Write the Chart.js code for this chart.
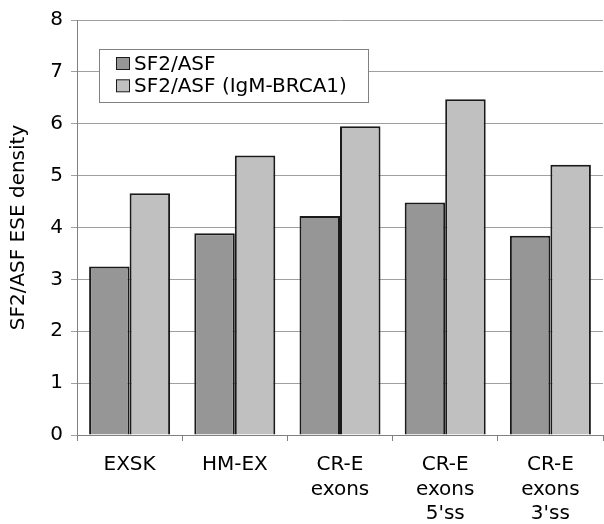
<!DOCTYPE html>
<html>
<head>
<meta charset="utf-8">
<script src="https://cdn.jsdelivr.net/npm/chart.js@4"></script>
<style>
  html, body { margin: 0; padding: 0; background: #fff; }
  #wrap { width: 604px; height: 524px; }
</style>
</head>
<body>
<div id="wrap"><canvas id="myChart" width="604" height="524"></canvas></div>
<script>
// categories (multi-line labels)
var categories = [
  ['EXSK'],
  ['HM-EX'],
  ['CR-E', 'exons'],
  ['CR-E', 'exons', "5'ss"],
  ['CR-E', 'exons', "3'ss"]
];
var seriesNames = ['SF2/ASF', 'SF2/ASF (IgM-BRCA1)'];
var sf2asf = [3.25, 3.89, 4.22, 4.48, 3.84];
var sf2asfIgm = [4.66, 5.39, 5.95, 6.47, 5.21];
var yTicks = [0, 1, 2, 3, 4, 5, 6, 7, 8];

var FONT = '"DejaVu Sans", Verdana, sans-serif';

// legend drawn as a framed box inside the plot, like the original
var boxLegend = {
  id: 'boxLegend',
  afterDraw: function (chart) {
    var ctx = chart.ctx;
    var x = 99.5, y = 49.5, w = 269, h = 53;
    ctx.save();
    ctx.fillStyle = '#fff';
    ctx.fillRect(x, y, w, h);
    ctx.strokeStyle = '#808080';
    ctx.lineWidth = 1;
    ctx.strokeRect(x, y, w, h);
    ctx.font = '20px ' + FONT;
    ctx.textBaseline = 'middle';
    chart.data.datasets.forEach(function (ds, i) {
      var cy = 63.5 + i * 22.3;
      ctx.fillStyle = ds.backgroundColor;
      ctx.fillRect(116.5, cy - 6, 13, 12);
      ctx.strokeStyle = '#1a1a1a';
      ctx.lineWidth = 1;
      ctx.strokeRect(116.5, cy - 6, 13, 12);
      ctx.fillStyle = '#000';
      ctx.fillText(ds.label, 134, cy + 1);
    });
    ctx.restore();
  }
};

var ctx = document.getElementById('myChart').getContext('2d');
var chart = new Chart(ctx, {
  type: 'bar',
  data: {
    labels: categories,
    datasets: [{
      label: seriesNames[0],
      data: sf2asf,
      backgroundColor: '#969696',
      borderColor: '#1a1a1a',
      borderWidth: 2
    }, {
      label: seriesNames[1],
      data: sf2asfIgm,
      backgroundColor: '#c0c0c0',
      borderColor: '#1a1a1a',
      borderWidth: 2
    }]
  },
  options: {
    responsive: false,
    animation: false,
    categoryPercentage: 0.77,
    barPercentage: 1.0,
    layout: { padding: { top: 19, right: 1, left: 0, bottom: 0 } },
    plugins: {
      legend: { display: false },
      tooltip: { enabled: false }
    },
    scales: {
      x: {
        grid: {
          offset: true,
          drawOnChartArea: false,
          drawTicks: true,
          tickLength: 6,
          color: '#808080'
        },
        border: { color: '#808080', width: 1 },
        ticks: {
          color: '#000',
          font: { family: FONT, size: 20, lineHeight: 1.225 },
          padding: 12,
          maxRotation: 0,
          autoSkip: false
        },
        afterFit: function (scale) { scale.height = 89; }
      },
      y: {
        min: 0,
        max: 8,
        afterBuildTicks: function (scale) {
          scale.ticks = yTicks.map(function (v) { return { value: v }; });
        },
        grid: {
          color: '#a0a0a0',
          tickLength: 6,
          drawTicks: true
        },
        border: { color: '#808080', width: 1 },
        ticks: {
          color: '#000',
          font: { family: FONT, size: 20 },
          padding: 8
        },
        title: {
          display: true,
          text: 'SF2/ASF ESE density',
          color: '#000',
          font: { family: FONT, size: 20 },
          padding: { top: 7, bottom: 0 }
        },
        afterFit: function (scale) { scale.width = 77; }
      }
    }
  },
  plugins: [boxLegend]
});
</script>
</body>
</html>
